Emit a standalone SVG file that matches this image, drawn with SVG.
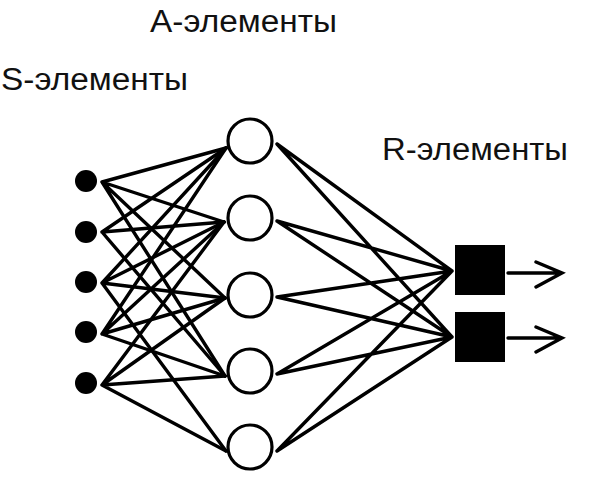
<svg xmlns="http://www.w3.org/2000/svg" width="592" height="480" viewBox="0 0 592 480">
<defs>
<style>
.lbl{font-family:"Liberation Sans",Arial,sans-serif;font-size:31px;fill:#111}
.e{stroke:#000;stroke-width:3.4;fill:none;stroke-linecap:round}
.s{fill:#000}
.a{fill:#fff;stroke:#000;stroke-width:3.2}
.r{fill:#000}
</style>
</defs>
<rect width="592" height="480" fill="#fff"/>
<text class="lbl" x="150" y="32" textLength="187" lengthAdjust="spacingAndGlyphs">A-элементы</text>
<text class="lbl" x="1" y="90" textLength="187" lengthAdjust="spacingAndGlyphs">S-элементы</text>
<text class="lbl" x="382" y="160" textLength="186" lengthAdjust="spacingAndGlyphs">R-элементы</text>
<g id="connectors">
<path class="e" d="M102 182L226 148M102 182L224 222M102 182L225 298M102 182L225 376"/>
<path class="e" d="M102 232L226 148M102 232L224 222M102 232L225 376"/>
<path class="e" d="M102 283L226 148M102 283L224 222M102 283L225 298M102 283L226 451"/>
<path class="e" d="M102 334L226 148M102 334L224 222M102 334L225 298M102 334L225 376"/>
<path class="e" d="M102 385L224 222M102 385L225 298M102 385L225 376M102 385L226 451"/>
<path class="e" d="M277 144L452 271M277 144L452 337M277 221L452 271M277 221L452 337M277 297L452 271M277 297L452 337M277 374L452 271M277 374L452 337M277 451L452 271M277 451L452 337"/>
<path class="e" d="M508 273H562M536 262L562 273L536 287M508 338H562M536 327L562 338L536 352"/>
</g>
<g id="S1"><circle class="s" cx="86" cy="181" r="11"/></g>
<g id="S2"><circle class="s" cx="86" cy="232" r="11"/></g>
<g id="S3"><circle class="s" cx="86" cy="282" r="11"/></g>
<g id="S4"><circle class="s" cx="86" cy="332" r="11"/></g>
<g id="S5"><circle class="s" cx="86" cy="383" r="11"/></g>
<g id="A1"><circle class="a" cx="250" cy="141" r="22"/></g>
<g id="A2"><circle class="a" cx="250" cy="218" r="22"/></g>
<g id="A3"><circle class="a" cx="250" cy="295" r="22"/></g>
<g id="A4"><circle class="a" cx="250" cy="371" r="22"/></g>
<g id="A5"><circle class="a" cx="250" cy="447" r="22"/></g>
<g id="R1"><rect class="r" x="455" y="245" width="50" height="50"/></g>
<g id="R2"><rect class="r" x="455" y="312" width="50" height="50"/></g>
</svg>
